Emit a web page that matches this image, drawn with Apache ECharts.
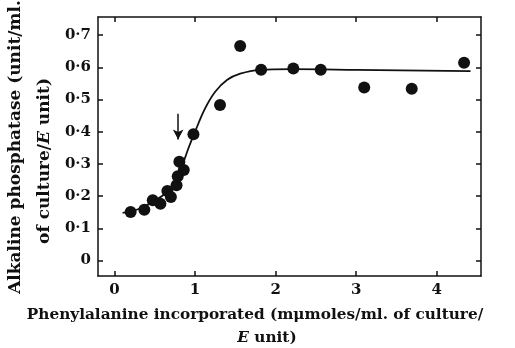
<!DOCTYPE html>
<html><head><meta charset="utf-8">
<script src="https://cdn.jsdelivr.net/npm/echarts@6/dist/echarts.min.js"></script>
<style>html,body{margin:0;padding:0;background:#fff}#c{width:515px;height:348px}</style>
</head><body><div id="c"></div>
<script>
// Measured points: [phenylalanine incorporated, alkaline phosphatase]
var pointsX = [0.20, 0.37, 0.475, 0.57, 0.656, 0.70, 0.77, 0.785, 0.805, 0.86, 0.98, 1.31, 1.56, 1.82, 2.22, 2.56, 3.10, 3.69, 4.34];
var pointsY = [0.151, 0.158, 0.187, 0.176, 0.216, 0.197, 0.234, 0.262, 0.307, 0.281, 0.392, 0.483, 0.666, 0.592, 0.596, 0.592, 0.537, 0.533, 0.614];
// Fitted curve
var curveX = [0.10, 0.30, 0.50, 0.65, 0.75, 0.83, 0.92, 1.00, 1.12, 1.25, 1.40, 1.56, 1.80, 2.20, 3.00, 4.42];
var curveY = [0.148, 0.160, 0.186, 0.212, 0.243, 0.288, 0.350, 0.400, 0.470, 0.524, 0.561, 0.580, 0.592, 0.594, 0.592, 0.588];
// Arrow annotation (start, end)
var arrowX = [0.79, 0.79];
var arrowY = [0.456, 0.376];
var xTicks = [0, 1, 2, 3, 4];
var xTickLabels = ['0', '1', '2', '3', '4'];
var yTicks = [0, 0.1, 0.2, 0.3, 0.4, 0.5, 0.6, 0.7];
var yTickLabels = ['0', '0·1', '0·2', '0·3', '0·4', '0·5', '0·6', '0·7'];

var FONT = 'DejaVu Serif';
var chart = echarts.init(document.getElementById('c'), null, {renderer: 'canvas'});
function pair(xs, ys) { return xs.map(function (x, i) { return [x, ys[i]]; }); }
function lbl(vals, labels) {
  return function (v) {
    for (var i = 0; i < vals.length; i++) if (Math.abs(vals[i] - v) < 1e-6) return labels[i];
    return '';
  };
}
var axisLine = {show: true, onZero: false, lineStyle: {color: '#111', width: 1.5}};
var tick = function (vals) { return {show: true, inside: true, length: 5, customValues: vals, lineStyle: {color: '#111', width: 1.5}}; };
chart.setOption({
  animation: false,
  backgroundColor: '#fff',
  grid: {left: 98, right: 34, top: 17, bottom: 72},
  xAxis: [
    {type: 'value', min: -0.205, max: 4.55, position: 'bottom', splitLine: {show: false},
     axisLine: axisLine, axisTick: tick(xTicks),
     axisLabel: {customValues: xTicks, formatter: lbl(xTicks, xTickLabels), color: '#111', fontFamily: FONT, fontWeight: 'bold', fontSize: 15, margin: 7}},
    {type: 'value', min: -0.205, max: 4.55, position: 'top', splitLine: {show: false},
     axisLine: axisLine, axisTick: tick(xTicks), axisLabel: {show: false}}
  ],
  yAxis: [
    {type: 'value', min: -0.048, max: 0.756, position: 'left', splitLine: {show: false},
     axisLine: axisLine, axisTick: tick(yTicks),
     axisLabel: {customValues: yTicks, formatter: lbl(yTicks, yTickLabels), color: '#111', fontFamily: FONT, fontWeight: 'bold', fontSize: 15, margin: 7}},
    {type: 'value', min: -0.048, max: 0.756, position: 'right', splitLine: {show: false},
     axisLine: axisLine, axisTick: tick(yTicks), axisLabel: {show: false}}
  ],
  series: [
    {type: 'line', data: pair(curveX, curveY), smooth: 0.35, showSymbol: false, symbol: 'none',
     lineStyle: {color: '#111', width: 1.8}, z: 2,
     markLine: {silent: true, symbol: ['none', 'arrow'], symbolSize: [8, 10], label: {show: false},
       lineStyle: {color: '#111', width: 1.5, type: 'solid'},
       data: [[{coord: [arrowX[0], arrowY[0]]}, {coord: [arrowX[1], arrowY[1]]}]]}},
    {type: 'scatter', data: pair(pointsX, pointsY), symbol: 'circle', symbolSize: 12,
     itemStyle: {color: '#111', opacity: 1}, z: 3}
  ],
  graphic: [
    {type: 'text', x: 16, y: 147, rotation: Math.PI / 2,
     style: {text: 'Alkaline phosphatase (unit/ml.', font: 'bold 17px "' + FONT + '"', fill: '#111', align: 'center', verticalAlign: 'middle'}},
    {type: 'text', x: 45, y: 161, rotation: Math.PI / 2,
     style: {text: 'of culture/{e|E} unit)', font: 'bold 17px "' + FONT + '"', fill: '#111', align: 'center', verticalAlign: 'middle',
       rich: {e: {fontFamily: FONT, fontWeight: 'bold', fontStyle: 'italic', fontSize: 17, fill: '#111'}}}},
    {type: 'text', x: 255, y: 315,
     style: {text: 'Phenylalanine incorporated (mμmoles/ml. of culture/', font: 'bold 15.3px "' + FONT + '"', fill: '#111', align: 'center', verticalAlign: 'middle'}},
    {type: 'text', x: 267, y: 338,
     style: {text: '{e|E} unit)', font: 'bold 15.3px "' + FONT + '"', fill: '#111', align: 'center', verticalAlign: 'middle',
       rich: {e: {fontFamily: FONT, fontWeight: 'bold', fontStyle: 'italic', fontSize: 15.3, fill: '#111'}}}}
  ]
});
</script></body></html>
